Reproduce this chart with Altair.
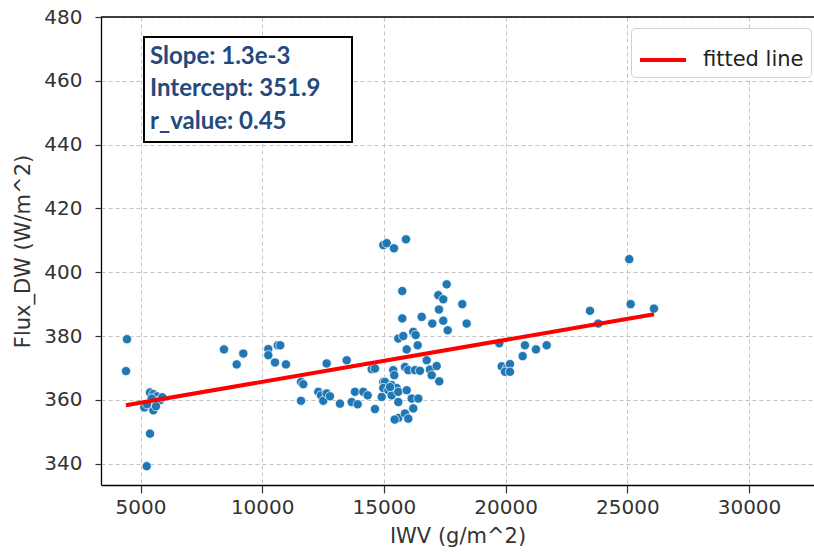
import altair as alt
import pandas as pd

# scatter data
iwv = [4445, 4404, 5390, 5526, 5665, 5801, 5156, 5526, 5637, 5460, 5255, 5390, 5896, 5267,
       8430, 9223, 8952, 10250, 10250, 10636, 10743, 10525, 10977, 11593, 11688, 11593,
       12304, 12415, 12509, 12649, 12785, 12649, 13471, 13195, 13811, 13676, 13923, 14153,
       14333, 14498, 14633, 14974, 14909,
       15755, 17579, 17234, 17439, 18220, 17262, 15755, 16552, 16987, 17439, 17620, 18400,
       15591, 15796, 16207, 16305, 16387, 15936, 14633, 15385, 15426, 15866, 16001, 16276,
       16482, 16757, 16893, 17168, 16963, 17275, 15044, 14974, 15180, 15319, 15525, 15319,
       15591, 15936, 15591, 16141, 16412, 16207, 15591, 15866, 16001, 15441, 15250,
       14974, 15114, 15414, 15907,
       25080, 25137, 26094, 23466, 23806, 19739, 20795, 21687, 21247, 20701, 19838, 20043,
       20179, 19973, 20179]
flux = [379.0, 369.0, 362.3, 361.8, 361.1, 359.9, 357.6, 356.7, 358.0, 360.4, 339.2, 349.4, 360.8, 358.6,
        375.8, 374.5, 371.1, 375.9, 374.0, 377.1, 377.1, 371.7, 371.1, 365.6, 364.9, 359.7,
        362.5, 361.4, 359.7, 362.0, 361.1, 371.4, 372.4, 358.8, 362.5, 359.3, 358.6, 362.5,
        361.4, 369.6, 357.1, 365.6, 360.9,
        394.1, 396.2, 392.8, 391.5, 390.0, 388.3, 385.5, 386.0, 383.9, 384.8, 381.8, 383.9,
        379.2, 380.0, 381.3, 380.3, 377.1, 375.8, 369.8, 369.3, 367.7, 370.3, 369.3, 369.3,
        369.1, 372.4, 369.5, 370.6, 367.7, 365.8, 365.6, 363.7, 363.0, 364.6, 363.7, 361.4,
        362.5, 363.0, 359.3, 360.4, 360.4, 357.3, 354.3, 355.7, 354.1, 353.8, 364.0,
        408.5, 409.1, 407.5, 410.3,
        404.1, 390.0, 388.6, 387.9, 383.9, 377.7, 377.1, 377.1, 375.8, 373.7, 370.5, 369.8,
        371.2, 368.8, 368.8]

# fitted line end points
fit_x = [4400, 26100]
fit_y = [358.3, 386.8]
fit_label = ["fitted line", "fitted line"]

# annotation text
stats_lines = ["Slope: 1.3e-3", "Intercept: 351.9", "r_value: 0.45"]

x_ticks = [5000, 10000, 15000, 20000, 25000, 30000]
y_ticks = [340, 360, 380, 400, 420, 440, 460, 480]

pts = pd.DataFrame({"iwv": iwv, "flux": flux})
fit = pd.DataFrame({"iwv": fit_x, "flux": fit_y, "label": fit_label})
note = pd.DataFrame({"txt": ["\n".join(stats_lines)]})

W, H = 713, 468
xs = alt.Scale(domain=[3377, 32670], nice=False, zero=False)
ys = alt.Scale(domain=[333.3, 480], nice=False, zero=False)

x_axis = alt.Axis(values=x_ticks, format="d", title="IWV (g/m^2)", grid=True,
                  tickSize=8, labelPadding=4, titlePadding=8)
y_axis = alt.Axis(values=y_ticks, format="d", title="Flux_DW (W/m^2)", grid=True,
                  tickSize=6, labelPadding=13, titlePadding=10)

scatter = alt.Chart(pts).mark_circle(size=85, color="#1f77b4", opacity=1,
                                      stroke="white", strokeWidth=0.7).encode(
    x=alt.X("iwv:Q", scale=xs, axis=x_axis),
    y=alt.Y("flux:Q", scale=ys, axis=y_axis),
)

line = alt.Chart(fit).mark_line(strokeWidth=4).encode(
    x=alt.X("iwv:Q", scale=xs),
    y=alt.Y("flux:Q", scale=ys),
    color=alt.Color("label:N",
                    scale=alt.Scale(domain=["fitted line"], range=["#ff0000"]),
                    legend=alt.Legend(title=None, orient="none", legendX=530, legendY=11,
                                      padding=7, strokeColor="#d0d0d0", fillColor="white",
                                      cornerRadius=4, symbolType="stroke", symbolSize=2116,
                                      symbolStrokeWidth=4, labelFontSize=21,
                                      labelFont="DejaVu Sans", labelColor="#222222",
                                      labelOffset=15)),
)

top_rule = alt.Chart(note).mark_rule(color="black", strokeWidth=1.3).encode(
    x=alt.value(0), x2=alt.value(W), y=alt.value(0)
)

box = alt.Chart(note).mark_rect(fill="white", stroke="black", strokeWidth=2).encode(
    x=alt.value(43), x2=alt.value(251), y=alt.value(20), y2=alt.value(125)
)

text = alt.Chart(note).mark_text(align="left", baseline="alphabetic", lineBreak="\n",
                                 lineHeight=32.3, font="Lato", fontWeight="bold",
                                 fontSize=24, color="#23497e").encode(
    x=alt.value(49), y=alt.value(47), text="txt:N"
)

chart = alt.layer(scatter, line, top_rule, box, text).properties(
    width=W, height=H,
    autosize=alt.AutoSizeParams(type="none"),
    padding={"left": 101, "top": 17, "right": 0, "bottom": 69},
    background="white",
).configure_view(stroke=None).configure_axis(
    labelFont="DejaVu Sans", labelFontSize=20, labelColor="#333333",
    titleFont="DejaVu Sans", titleFontSize=21, titleColor="#333333", titleFontWeight="normal",
    domainColor="black", domainWidth=1.3, tickColor="#333333", tickWidth=1.2,
    gridColor="#c4c4c4", gridDash=[4, 3], gridWidth=1,
)

chart.save("out.html", embed_options={"renderer": "svg", "actions": False})
